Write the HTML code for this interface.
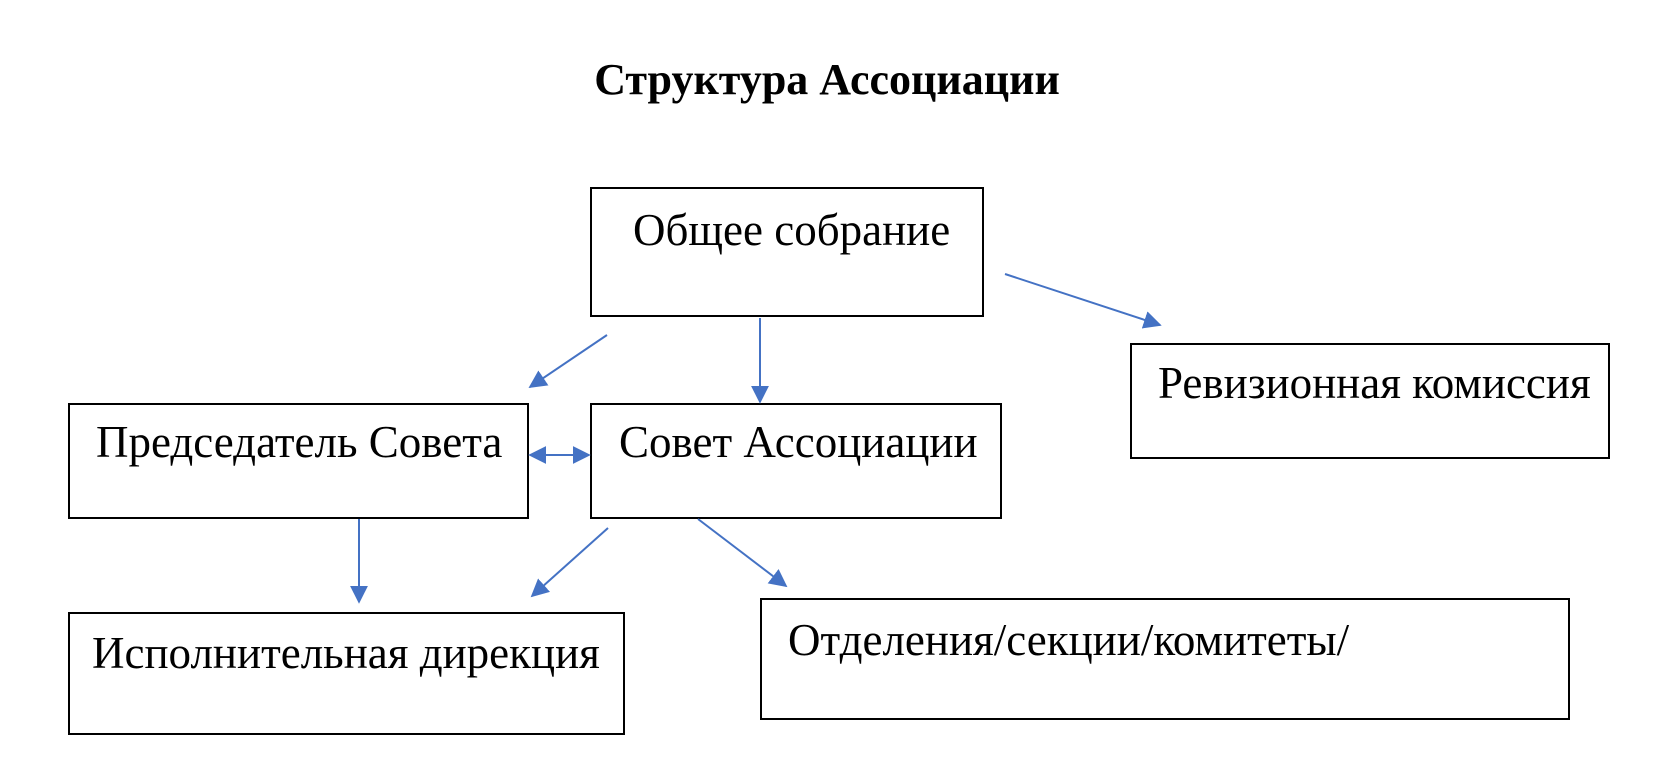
<!DOCTYPE html>
<html><head><meta charset="utf-8"><style>
body{margin:0;background:#fff;}
svg{display:block}
text{font-family:"Liberation Serif",serif;fill:#000}
</style></head><body>
<svg width="1672" height="764" viewBox="0 0 1672 764" xmlns="http://www.w3.org/2000/svg">
<defs>
<marker id="as" viewBox="0 0 10 10" refX="9" refY="5" markerWidth="18" markerHeight="18" orient="auto-start-reverse" markerUnits="userSpaceOnUse">
<path d="M0,0 L10,5 L0,10 z" fill="#4472c4"/></marker>
</defs>
<text x="827" y="94" font-size="44" font-weight="bold" text-anchor="middle">Структура Ассоциации</text>
<g fill="none" stroke="#000" stroke-width="2">
<rect x="591" y="188" width="392" height="128"/>
<rect x="1131" y="344" width="478" height="114"/>
<rect x="69" y="404" width="459" height="114"/>
<rect x="591" y="404" width="410" height="114"/>
<rect x="69" y="613" width="555" height="121"/>
<rect x="761" y="599" width="808" height="120"/>
</g>
<g font-size="45">
<text x="633" y="245">Общее собрание</text>
<text x="1158" y="398">Ревизионная комиссия</text>
<text x="96" y="457">Председатель Совета</text>
<text x="619" y="457">Совет Ассоциации</text>
<text x="92" y="668">Исполнительная дирекция</text>
<text x="788" y="655">Отделения/секции/комитеты/</text>
</g>
<g stroke="#4472c4" stroke-width="2" fill="none">
<line x1="1005" y1="274" x2="1160" y2="325" marker-end="url(#as)"/>
<line x1="607" y1="335" x2="530" y2="387" marker-end="url(#as)"/>
<line x1="760" y1="318" x2="760" y2="402" marker-end="url(#as)"/>
<line x1="530" y1="455" x2="589" y2="455" marker-start="url(#as)" marker-end="url(#as)"/>
<line x1="359" y1="519" x2="359" y2="602" marker-end="url(#as)"/>
<line x1="608" y1="528" x2="532" y2="596" marker-end="url(#as)"/>
<line x1="698" y1="519" x2="786" y2="586" marker-end="url(#as)"/>
</g>
</svg>
</body></html>
